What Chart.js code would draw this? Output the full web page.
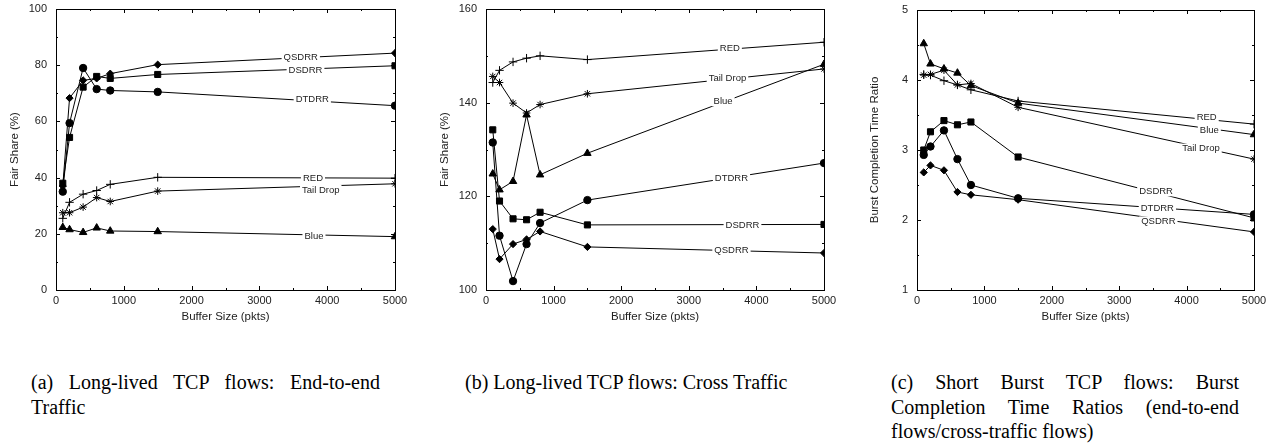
<!DOCTYPE html>
<html>
<head>
<meta charset="utf-8">
<script src="https://cdn.jsdelivr.net/npm/chart.js@4.4.0/dist/chart.umd.min.js"></script>
<style>
  body { margin: 0; background: #fff; width: 1278px; height: 447px; position: relative; overflow: hidden; }
  canvas { position: absolute; top: 0; }
  .cap { position: absolute; top: 370px; font-family: "Liberation Serif", "Times New Roman", serif;
         font-size: 20px; line-height: 24.5px; color: #000; text-align: justify; }
</style>
</head>
<body>
<canvas id="c1" width="420" height="330" style="left:0px"></canvas>
<canvas id="c2" width="420" height="330" style="left:430px"></canvas>
<canvas id="c3" width="418" height="330" style="left:860px"></canvas>

<div class="cap" style="left:31px; width:349px">(a) Long-lived TCP flows: End-to-end Traffic</div>
<div class="cap" style="left:465px; width:360px; text-align:left">(b) Long-lived TCP flows: Cross Traffic</div>
<div class="cap" style="left:891px; width:348px">(c) Short Burst TCP flows: Burst Completion Time Ratios (end-to-end flows/cross-traffic flows)</div>

<script>
const bufferSizes = [100, 200, 400, 600, 800, 1500, 5000];

// (a) long-lived flows, end-to-end traffic, fair share %
const e2eQSDRR = [37, 68.3, 74.6, 75.3, 77, 80.2, 84.3];
const e2eDSDRR = [38, 54.3, 72.2, 76, 75.3, 76.7, 79.8];
const e2eDTDRR = [35, 59.4, 79, 71.5, 71, 70.5, 65.6];
const e2eRED   = [25.5, 31.2, 34.1, 35.4, 37.6, 40.1, 39.8];
const e2eTail  = [27.5, 27.5, 29.5, 32.9, 31.5, 35.2, 37.8];
const e2eBlue  = [22.3, 21.5, 20.5, 22.1, 21, 20.8, 19];

// (b) long-lived flows, cross traffic, fair share %
const crossQSDRR = [113, 106.6, 109.8, 110.8, 112.5, 109.2, 107.9];
const crossDSDRR = [134.2, 119, 115.2, 115, 116.6, 113.9, 114];
const crossDTDRR = [131.5, 111.6, 101.9, 109.8, 114.3, 119.2, 127.1];
const crossRED   = [144.3, 146.9, 148.7, 149.5, 150, 149.2, 152.9];
const crossTail  = [145.6, 144.3, 139.9, 137.8, 139.6, 141.9, 147.2];
const crossBlue  = [124.8, 121.4, 123.2, 137.4, 124.6, 129.2, 148.2];

// (c) short bursts, completion time ratio
const burstQSDRR = [2.68, 2.78, 2.71, 2.40, 2.36, 2.29, 1.83];
const burstDSDRR = [3.0, 3.26, 3.42, 3.36, 3.40, 2.90, 2.03];
const burstDTDRR = [2.93, 3.05, 3.28, 2.87, 2.50, 2.31, 2.08];
const burstRED   = [4.08, 4.07, 3.99, 3.93, 3.86, 3.70, 3.37];
const burstTail  = [4.07, 4.08, 4.14, 3.93, 3.95, 3.61, 2.87];
const burstBlue  = [4.52, 4.23, 4.16, 4.10, 3.92, 3.67, 3.22];

// line labels: [text, x, y] in data units
const labelsA = [['QSDRR', 3610, 82.9], ['DSDRR', 3680, 78.1], ['DTDRR', 3780, 67.9],
                 ['RED', 3790, 39.8], ['Tail Drop', 3905, 35.6], ['Blue', 3805, 19.2]];
const labelsB = [['RED', 3607, 151.5], ['Tail Drop', 3572, 145.1], ['Blue', 3507, 140.3],
                 ['DTDRR', 3631, 123.9], ['DSDRR', 3794, 113.9], ['QSDRR', 3631, 108.5]];
const labelsC = [['RED', 4298, 3.47], ['Blue', 4337, 3.28], ['Tail Drop', 4213, 3.02],
                 ['DSDRR', 3547, 2.41], ['DTDRR', 3566, 2.16], ['QSDRR', 3581, 1.98]];

const SANS = '"Liberation Sans", Arial, Helvetica, sans-serif';

const markers = {
  QSDRR: ['rectRot', 3.6],
  DSDRR: ['rect', 4.3],
  DTDRR: ['circle', 3.7],
  RED: ['cross', 4.2],
  'Tail Drop': ['star', 3.8],
  Blue: ['triangle', 4.3]
};

const framePlugin = {
  id: 'frame',
  afterDatasetsDraw(chart, args, opts) {
    const { ctx, chartArea: a, scales: { x, y } } = chart;
    ctx.save();
    // boxed frame with inward ticks on all sides
    ctx.strokeStyle = '#000';
    ctx.lineWidth = 1;
    ctx.strokeRect(Math.round(a.left) + 0.5, Math.round(a.top) + 0.5,
                   Math.round(a.right - a.left), Math.round(a.bottom - a.top));
    ctx.beginPath();
    for (let v = x.min; v <= x.max + 1e-9; v += opts.xMinor) {
      const px = Math.round(x.getPixelForValue(v)) + 0.5;
      const len = Math.abs(v / opts.xMajor - Math.round(v / opts.xMajor)) < 1e-6 ? 4 : 2;
      ctx.moveTo(px, a.bottom); ctx.lineTo(px, a.bottom - len);
      ctx.moveTo(px, a.top); ctx.lineTo(px, a.top + len);
    }
    for (let v = y.min; v <= y.max + 1e-9; v += opts.yMinor) {
      const py = Math.round(y.getPixelForValue(v)) + 0.5;
      const len = Math.abs((v - y.min) / opts.yMajor - Math.round((v - y.min) / opts.yMajor)) < 1e-6 ? 4 : 2;
      ctx.moveTo(a.left, py); ctx.lineTo(a.left + len, py);
      ctx.moveTo(a.right, py); ctx.lineTo(a.right - len, py);
    }
    ctx.stroke();
    // curve labels
    ctx.font = '9.5px ' + SANS;
    ctx.textAlign = 'center';
    ctx.textBaseline = 'middle';
    opts.labels.forEach(([t, lx, ly]) => {
      const px = x.getPixelForValue(lx), py = y.getPixelForValue(ly);
      const w = ctx.measureText(t).width;
      ctx.fillStyle = '#fff';
      ctx.fillRect(px - w / 2 - 2, py - 5, w + 4, 10);
      ctx.fillStyle = '#222';
      ctx.fillText(t, px, py);
    });
    ctx.restore();
  }
};

function makeChart(id, series, yMin, yMax, yMajor, yTitle, labels, area) {
  const datasets = Object.keys(series).map(name => ({
    label: name,
    data: bufferSizes.map((b, i) => ({ x: b, y: series[name][i] })),
    borderColor: '#000',
    borderWidth: 1,
    pointStyle: markers[name][0],
    pointRadius: markers[name][1],
    pointBackgroundColor: '#000',
    pointBorderColor: '#000',
    pointBorderWidth: 1,
    tension: 0,
    fill: false
  }));
  const chart = new Chart(document.getElementById(id), {
    type: 'line',
    data: { datasets },
    plugins: [framePlugin],
    options: {
      responsive: false,
      animation: false,
      devicePixelRatio: 1,
      layout: { padding: { left: 0, right: 20, top: 4, bottom: 4 } },
      plugins: {
        legend: { display: false },
        tooltip: { enabled: false },
        frame: { labels, xMajor: 1000, xMinor: 500, yMajor, yMinor: yMajor / 2 }
      },
      scales: {
        x: {
          type: 'linear', min: 0, max: 5000,
          ticks: { stepSize: 1000, color: '#222', font: { family: SANS, size: 11 }, padding: 0,
                   maxRotation: 0, callback: v => String(v) },
          grid: { display: false, drawTicks: true, tickLength: 4 },
          border: { display: false },
          title: { display: true, text: 'Buffer Size (pkts)', color: '#222',
                   font: { family: SANS, size: 11.5 }, padding: { top: 0, bottom: 2 } },
          afterFit(s) { s.height = 36; }
        },
        y: {
          min: yMin, max: yMax,
          ticks: { stepSize: yMajor, color: '#222', font: { family: SANS, size: 11 }, padding: 0,
                   callback: v => String(v) },
          grid: { display: false, drawTicks: true, tickLength: 9 },
          border: { display: false },
          title: { display: true, text: yTitle, color: '#222',
                   font: { family: SANS, size: 11.5 }, padding: { top: 8, bottom: 0 } },
          afterFit(s) { s.width = area.left; }
        }
      }
    }
  });
  // nudge layout padding so the plot box lands where the figure has it
  const pad = { left: 0, right: 20, top: 4, bottom: 4 };
  for (let k = 0; k < 4; k++) {
    const a = chart.chartArea;
    pad.top = Math.max(0, pad.top + area.top - a.top);
    pad.bottom += a.bottom - area.bottom;
    pad.right += a.right - area.right;
    chart.config.options.layout.padding = Object.assign({}, pad);
    chart.update();
  }
  return chart;
}

makeChart('c1',
  { QSDRR: e2eQSDRR, DSDRR: e2eDSDRR, DTDRR: e2eDTDRR, RED: e2eRED, 'Tail Drop': e2eTail, Blue: e2eBlue },
  0, 100, 20, 'Fair Share (%)', labelsA, { left: 56, right: 395, top: 9, bottom: 290 });

makeChart('c2',
  { QSDRR: crossQSDRR, DSDRR: crossDSDRR, DTDRR: crossDTDRR, RED: crossRED, 'Tail Drop': crossTail, Blue: crossBlue },
  100, 160, 20, 'Fair Share (%)', labelsB, { left: 56, right: 394, top: 9, bottom: 290 });

makeChart('c3',
  { QSDRR: burstQSDRR, DSDRR: burstDSDRR, DTDRR: burstDTDRR, RED: burstRED, 'Tail Drop': burstTail, Blue: burstBlue },
  1, 5, 1, 'Burst Completion Time Ratio', labelsC, { left: 57, right: 394, top: 10, bottom: 290 });
</script>
</body>
</html>
